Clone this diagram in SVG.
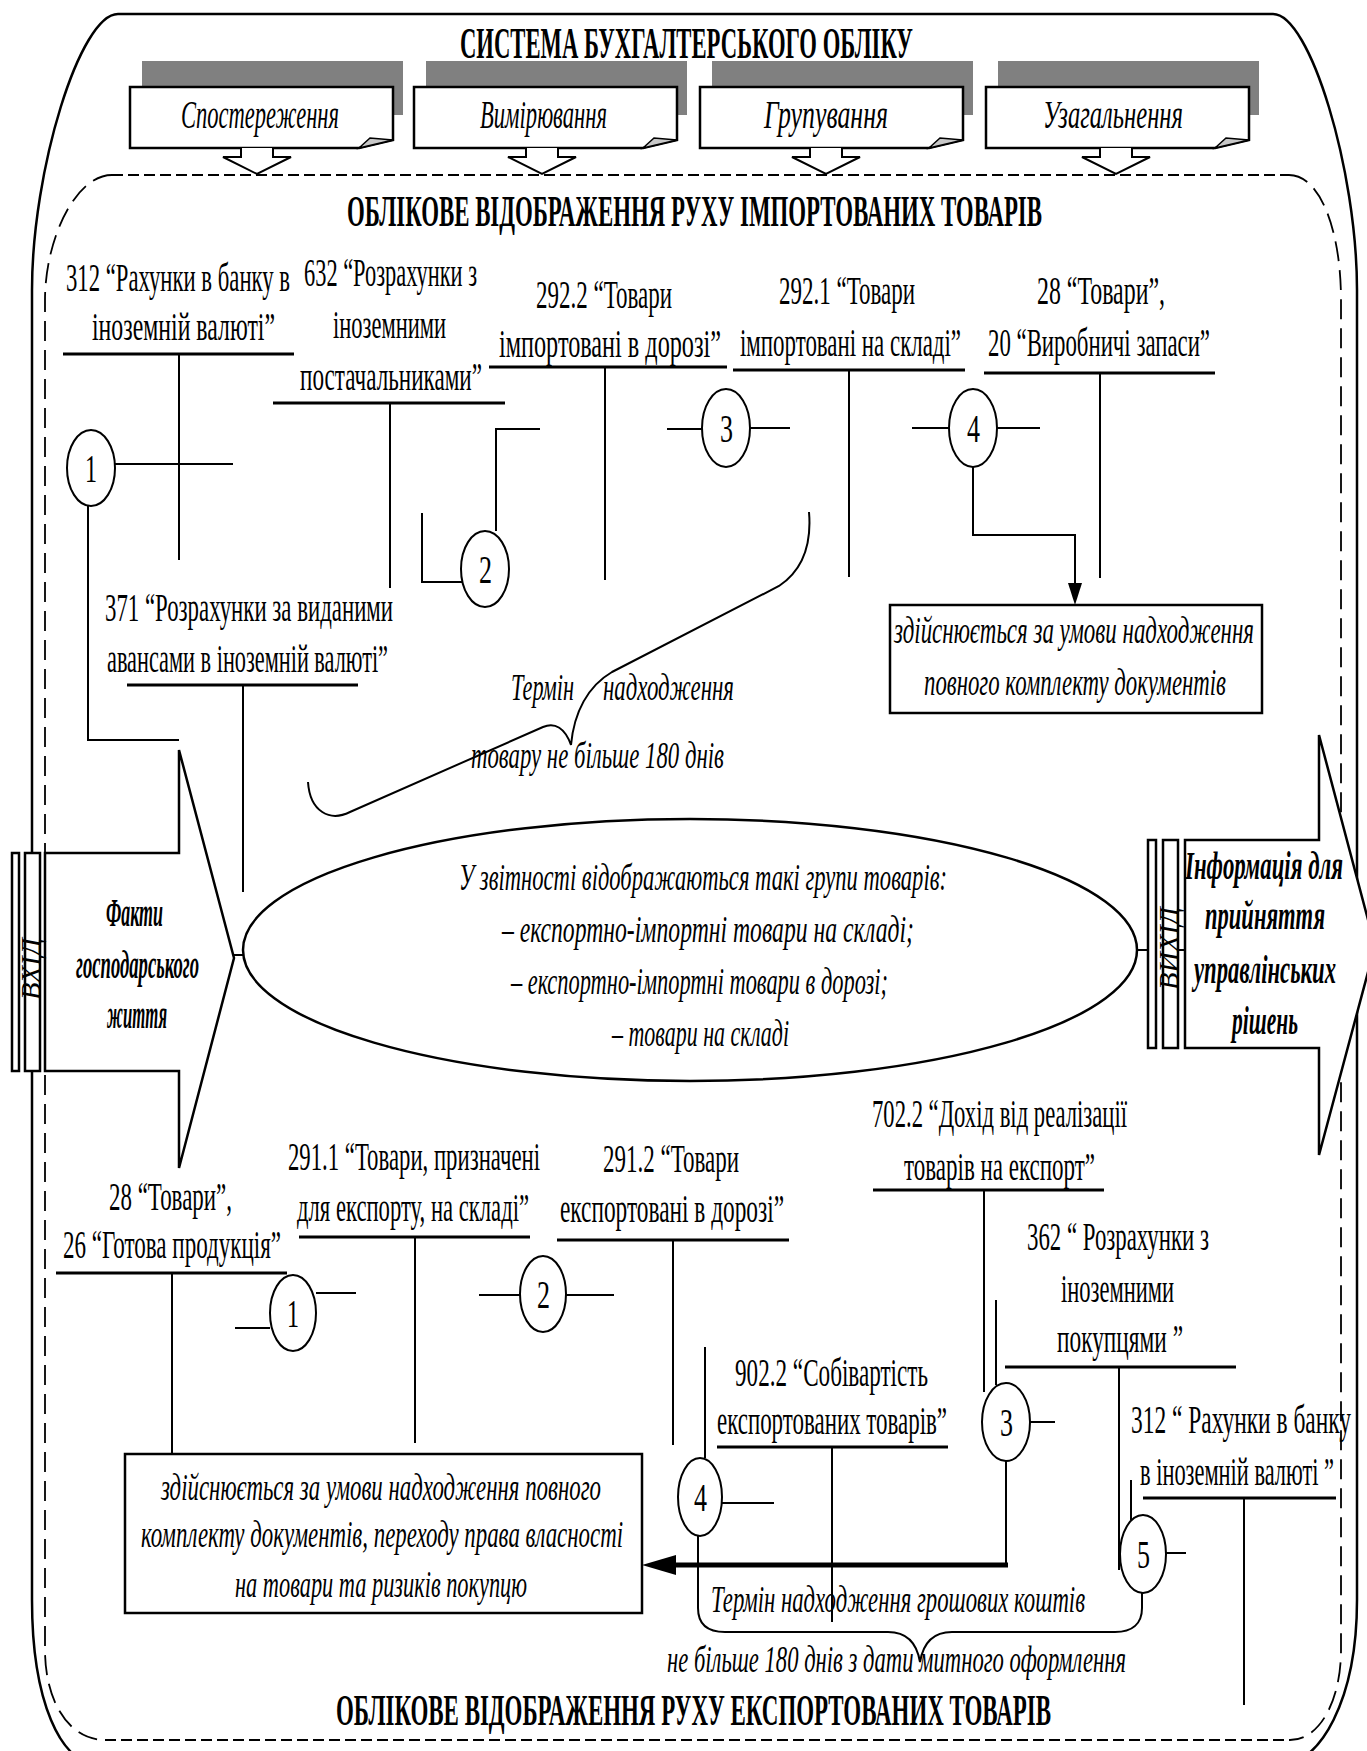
<svg xmlns="http://www.w3.org/2000/svg" width="1367" height="1751" viewBox="0 0 1367 1751">
<defs>
<style>
.ln{fill:none;stroke:#000;stroke-width:2}
.hl{fill:none;stroke:#000;stroke-width:3}
.tk{fill:none;stroke:#000;stroke-width:5}
.t{font-family:"Liberation Serif","Times New Roman",serif;font-size:40px;fill:#000}
.it{font-style:italic;font-size:38px}
.bx{font-style:italic;font-size:40px}
.bd{font-weight:bold;font-size:44px}
.bi{font-weight:bold;font-style:italic;font-size:40px}
.rot{font-style:italic;font-size:27px}
.cir{fill:#fff;stroke:#000;stroke-width:2}
.box{fill:#fff;stroke:#000;stroke-width:2.5}
.sh{fill:#808080}
.fold{fill:#c8c8c8;stroke:#000;stroke-width:1.5}
.dar{fill:#fff;stroke:#000;stroke-width:2}
.frame{fill:none;stroke:#000;stroke-width:2.5}
.dsh{fill:none;stroke:#000;stroke-width:1.8;stroke-dasharray:11 5}
.dsv{fill:none;stroke:#000;stroke-width:1.8;stroke-dasharray:20 9}
</style>
<marker id="ahd" markerWidth="22" markerHeight="14" refX="0" refY="7" orient="auto" markerUnits="userSpaceOnUse"><path d="M0,0 L22,7 L0,14 Z" fill="#000"/></marker>
<marker id="ahl" markerWidth="34" markerHeight="20" refX="0" refY="10" orient="auto" markerUnits="userSpaceOnUse"><path d="M0,0 L34,10 L0,20 Z" fill="#000"/></marker>
</defs>
<rect width="1367" height="1751" fill="#fff"/>

<g id="frames">
<path class="frame" d="M118,14 H1273 C1310,14 1357,170 1357,290 V1600 C1357,1700 1320,1765 1280,1765 H100 C60,1765 32,1700 32,1600 V290 C32,170 80,14 118,14 Z"/>
<path class="dsh" d="M112,175 H1289"/>
<path class="dsh" d="M105,1740 H1290"/>
<path class="dsv" d="M112,175 C75,175 45,240 45,300 V1650 C45,1700 68,1740 105,1740"/>
<path class="dsv" d="M1289,175 C1320,175 1341,230 1341,300 V1650 C1341,1700 1320,1740 1290,1740"/>
</g>

<g id="titles">
<text class="t bd" x="460" y="58" textLength="453" lengthAdjust="spacingAndGlyphs">СИСТЕМА БУХГАЛТЕРСЬКОГО ОБЛІКУ</text>
<text class="t bd" x="347" y="226" textLength="695" lengthAdjust="spacingAndGlyphs">ОБЛІКОВЕ ВІДОБРАЖЕННЯ РУХУ ІМПОРТОВАНИХ ТОВАРІВ</text>
<text class="t bd" x="336" y="1725" textLength="715" lengthAdjust="spacingAndGlyphs">ОБЛІКОВЕ ВІДОБРАЖЕННЯ РУХУ ЕКСПОРТОВАНИХ ТОВАРІВ</text>
</g>

<g id="stage-observation">
<rect class="sh" x="142" y="61" width="261" height="54"/>
<path class="box" d="M130,87 H393 V140 L359,148 H130 Z"/>
<path class="fold" d="M359,148 L370,138 L393,140 Z"/>
<path class="dar" d="M241,148 V157 H223 L257,174 L291,157 H273 V148"/>
<text class="t bx" x="181" y="128" textLength="158" lengthAdjust="spacingAndGlyphs">Спостереження</text>
</g>
<g id="stage-measurement">
<rect class="sh" x="426" y="61" width="261" height="54"/>
<path class="box" d="M414,87 H677 V140 L643,148 H414 Z"/>
<path class="fold" d="M643,148 L654,138 L677,140 Z"/>
<path class="dar" d="M526,148 V157 H508 L542,174 L576,157 H558 V148"/>
<text class="t bx" x="480" y="128" textLength="127" lengthAdjust="spacingAndGlyphs">Вимірювання</text>
</g>
<g id="stage-grouping">
<rect class="sh" x="712" y="61" width="261" height="54"/>
<path class="box" d="M700,87 H963 V140 L929,148 H700 Z"/>
<path class="fold" d="M929,148 L940,138 L963,140 Z"/>
<path class="dar" d="M810,148 V157 H792 L826,174 L860,157 H842 V148"/>
<text class="t bx" x="764" y="128" textLength="124" lengthAdjust="spacingAndGlyphs">Групування</text>
</g>
<g id="stage-generalization">
<rect class="sh" x="998" y="61" width="261" height="54"/>
<path class="box" d="M986,87 H1249 V140 L1215,148 H986 Z"/>
<path class="fold" d="M1215,148 L1226,138 L1249,140 Z"/>
<path class="dar" d="M1100,148 V157 H1082 L1116,174 L1150,157 H1132 V148"/>
<text class="t bx" x="1043" y="128" textLength="140" lengthAdjust="spacingAndGlyphs">Узагальнення</text>
</g>

<g id="connectors">
<path class="hl" d="M63,354 H294"/><path class="ln" d="M179,354 V560"/>
<path class="hl" d="M273,403 H505"/><path class="ln" d="M390,404 V588"/>
<path class="hl" d="M489,367 H727"/><path class="ln" d="M605,367 V580"/>
<path class="hl" d="M733,370 H965"/><path class="ln" d="M849,370 V577"/>
<path class="hl" d="M984,373 H1215"/><path class="ln" d="M1100,373 V578"/>
<path class="hl" d="M127,685 H358"/><path class="ln" d="M243,685 V892"/>
<path class="ln" d="M115,464 H233"/>
<path class="ln" d="M88,506 V740 H179"/>
<path class="ln" d="M496,531 V429 H540"/>
<path class="ln" d="M462,582 H422 V513"/>
<path class="ln" d="M667,429 H702"/><path class="ln" d="M750,428 H790"/>
<path class="ln" d="M912,428 H949"/><path class="ln" d="M997,428 H1040"/>
<path class="ln" d="M973,467 V535 H1075 V583" marker-end="url(#ahd)"/>
<path class="ln" d="M809,512 C812,548 800,572 779,586 L612,672 C588,686 574,712 571,745 C565,728 555,722 543,727 L350,812 C330,822 310,812 308,782"/>
<path class="ln" d="M234,955 H243"/>
<path class="ln" d="M1136,950 H1148"/><path class="ln" d="M1178,950 H1185"/>
<path class="hl" d="M56,1273 H287"/><path class="ln" d="M172,1273 V1454"/>
<path class="hl" d="M299,1237 H530"/><path class="ln" d="M415,1237 V1443"/>
<path class="hl" d="M557,1240 H789"/><path class="ln" d="M673,1240 V1445"/>
<path class="hl" d="M873,1190 H1104"/><path class="ln" d="M984,1190 V1392"/>
<path class="hl" d="M1005,1367 H1236"/><path class="ln" d="M1119,1367 V1570"/>
<path class="hl" d="M717,1447 H948"/><path class="ln" d="M832,1447 V1622"/>
<path class="hl" d="M1143,1498 H1336"/><path class="ln" d="M1244,1498 V1705"/>
<path class="ln" d="M235,1328 H270"/><path class="ln" d="M316,1293 H356"/>
<path class="ln" d="M479,1295 H520"/><path class="ln" d="M566,1295 H614"/>
<path class="ln" d="M996,1300 V1385"/><path class="ln" d="M1030,1422 H1055"/>
<path class="ln" d="M1006,1461 V1565"/>
<path class="tk" d="M1008,1565 H676" marker-end="url(#ahl)"/>
<path class="ln" d="M705,1347 V1458"/><path class="ln" d="M722,1503 H774"/>
<path class="ln" d="M1131,1480 V1520"/><path class="ln" d="M1166,1553 H1186"/>
<path class="ln" d="M698,1536 V1608 C698,1625 708,1632 725,1632 H888 C907,1632 917,1644 920,1662 C923,1644 933,1632 952,1632 H1115 C1132,1632 1142,1624 1142,1608 V1593"/>
</g>

<g id="input-arrow">
<path class="box" d="M45,853 H179 V750 L234,958 L179,1168 V1071 H45 Z"/>
<rect class="box" x="12" y="853" width="7" height="218"/>
<rect class="box" x="25" y="853" width="15" height="218"/>
<text class="t rot" transform="translate(40,1000) rotate(-90)" x="0" y="0" textLength="62" lengthAdjust="spacingAndGlyphs">ВХІД</text>
<text class="t bi" x="106" y="926" textLength="57" lengthAdjust="spacingAndGlyphs">Факти</text>
<text class="t bi" x="76" y="978" textLength="123" lengthAdjust="spacingAndGlyphs">господарського</text>
<text class="t bi" x="107" y="1028" textLength="60" lengthAdjust="spacingAndGlyphs">життя</text>
</g>

<g id="output-arrow">
<path class="box" d="M1185,840 H1319 V735 L1375,946 L1319,1155 V1048 H1185 Z"/>
<rect class="box" x="1148" y="840" width="8" height="208"/>
<rect class="box" x="1163" y="840" width="15" height="208"/>
<text class="t rot" transform="translate(1178,990) rotate(-90)" x="0" y="0" textLength="83" lengthAdjust="spacingAndGlyphs">ВИХІД</text>
<text class="t bi" x="1185" y="879" textLength="158" lengthAdjust="spacingAndGlyphs">Інформація для</text>
<text class="t bi" x="1205" y="929" textLength="120" lengthAdjust="spacingAndGlyphs">прийняття</text>
<text class="t bi" x="1194" y="983" textLength="142" lengthAdjust="spacingAndGlyphs">управлінських</text>
<text class="t bi" x="1232" y="1034" textLength="66" lengthAdjust="spacingAndGlyphs">рішень</text>
</g>

<g id="reporting-ellipse">
<ellipse class="box" cx="690" cy="950" rx="447" ry="131"/>
<text class="t it" x="459" y="890" textLength="488" lengthAdjust="spacingAndGlyphs">У звітності відображаються такі групи товарів:</text>
<text class="t it" x="502" y="942" textLength="412" lengthAdjust="spacingAndGlyphs">– експортно-імпортні товари на складі;</text>
<text class="t it" x="511" y="994" textLength="377" lengthAdjust="spacingAndGlyphs">– експортно-імпортні товари в дорозі;</text>
<text class="t it" x="612" y="1046" textLength="177" lengthAdjust="spacingAndGlyphs">– товари на складі</text>
</g>

<g id="acc-312-import">
<text class="t" x="66" y="291" textLength="224" lengthAdjust="spacingAndGlyphs">312 “Рахунки в банку в</text>
<text class="t" x="92" y="340" textLength="183" lengthAdjust="spacingAndGlyphs">іноземній валюті”</text>
</g>
<g id="acc-632">
<text class="t" x="304" y="286" textLength="173" lengthAdjust="spacingAndGlyphs">632 “Розрахунки з</text>
<text class="t" x="333" y="338" textLength="113" lengthAdjust="spacingAndGlyphs">іноземними</text>
<text class="t" x="300" y="390" textLength="182" lengthAdjust="spacingAndGlyphs">постачальниками”</text>
</g>
<g id="acc-292-2">
<text class="t" x="536" y="308" textLength="136" lengthAdjust="spacingAndGlyphs">292.2 “Товари</text>
<text class="t" x="499" y="357" textLength="222" lengthAdjust="spacingAndGlyphs">імпортовані в дорозі”</text>
</g>
<g id="acc-292-1">
<text class="t" x="779" y="304" textLength="136" lengthAdjust="spacingAndGlyphs">292.1 “Товари</text>
<text class="t" x="740" y="356" textLength="221" lengthAdjust="spacingAndGlyphs">імпортовані на складі”</text>
</g>
<g id="acc-28-20">
<text class="t" x="1037" y="304" textLength="128" lengthAdjust="spacingAndGlyphs">28 “Товари”,</text>
<text class="t" x="988" y="356" textLength="222" lengthAdjust="spacingAndGlyphs">20 “Виробничі запаси”</text>
</g>
<g id="acc-371">
<text class="t" x="105" y="621" textLength="288" lengthAdjust="spacingAndGlyphs">371 “Розрахунки за виданими</text>
<text class="t" x="107" y="672" textLength="281" lengthAdjust="spacingAndGlyphs">авансами в іноземній валюті”</text>
</g>

<g id="op-i1"><ellipse class="cir" cx="91" cy="468" rx="24" ry="38"/><text class="t" x="85" y="482" textLength="12" lengthAdjust="spacingAndGlyphs">1</text></g>
<g id="op-i2"><ellipse class="cir" cx="485" cy="569" rx="24" ry="38"/><text class="t" x="479" y="583" textLength="13" lengthAdjust="spacingAndGlyphs">2</text></g>
<g id="op-i3"><ellipse class="cir" cx="726" cy="428" rx="24" ry="39"/><text class="t" x="720" y="442" textLength="13" lengthAdjust="spacingAndGlyphs">3</text></g>
<g id="op-i4"><ellipse class="cir" cx="973" cy="428" rx="24" ry="39"/><text class="t" x="967" y="442" textLength="13" lengthAdjust="spacingAndGlyphs">4</text></g>

<g id="import-term">
<text class="t it" x="511" y="700" textLength="63" lengthAdjust="spacingAndGlyphs">Термін</text>
<text class="t it" x="603" y="700" textLength="131" lengthAdjust="spacingAndGlyphs">надходження</text>
<text class="t it" x="471" y="768" textLength="253" lengthAdjust="spacingAndGlyphs">товару не більше 180 днів</text>
</g>

<g id="import-note">
<rect class="box" x="890" y="605" width="372" height="108"/>
<text class="t it" x="894" y="643" textLength="360" lengthAdjust="spacingAndGlyphs">здійснюється за умови надходження</text>
<text class="t it" x="924" y="695" textLength="302" lengthAdjust="spacingAndGlyphs">повного комплекту документів</text>
</g>

<g id="acc-28-26">
<text class="t" x="109" y="1210" textLength="123" lengthAdjust="spacingAndGlyphs">28 “Товари”,</text>
<text class="t" x="63" y="1258" textLength="218" lengthAdjust="spacingAndGlyphs">26 “Готова продукція”</text>
</g>
<g id="acc-291-1">
<text class="t" x="288" y="1170" textLength="252" lengthAdjust="spacingAndGlyphs">291.1 “Товари, призначені</text>
<text class="t" x="297" y="1221" textLength="232" lengthAdjust="spacingAndGlyphs">для експорту, на складі”</text>
</g>
<g id="acc-291-2">
<text class="t" x="603" y="1172" textLength="136" lengthAdjust="spacingAndGlyphs">291.2 “Товари</text>
<text class="t" x="560" y="1222" textLength="224" lengthAdjust="spacingAndGlyphs">експортовані в дорозі”</text>
</g>
<g id="acc-702-2">
<text class="t" x="872" y="1127" textLength="255" lengthAdjust="spacingAndGlyphs">702.2 “Дохід від реалізації</text>
<text class="t" x="904" y="1180" textLength="191" lengthAdjust="spacingAndGlyphs">товарів на експорт”</text>
</g>
<g id="acc-362">
<text class="t" x="1027" y="1250" textLength="182" lengthAdjust="spacingAndGlyphs">362 “ Розрахунки з</text>
<text class="t" x="1061" y="1302" textLength="113" lengthAdjust="spacingAndGlyphs">іноземними</text>
<text class="t" x="1057" y="1352" textLength="126" lengthAdjust="spacingAndGlyphs">покупцями ”</text>
</g>
<g id="acc-902-2">
<text class="t" x="735" y="1386" textLength="193" lengthAdjust="spacingAndGlyphs">902.2 “Собівартість</text>
<text class="t" x="717" y="1434" textLength="230" lengthAdjust="spacingAndGlyphs">експортованих товарів”</text>
</g>
<g id="acc-312-export">
<text class="t" x="1131" y="1433" textLength="220" lengthAdjust="spacingAndGlyphs">312 “ Рахунки в банку</text>
<text class="t" x="1140" y="1485" textLength="194" lengthAdjust="spacingAndGlyphs">в іноземній валюті ”</text>
</g>

<g id="op-e1"><ellipse class="cir" cx="293" cy="1313" rx="23" ry="38"/><text class="t" x="287" y="1327" textLength="12" lengthAdjust="spacingAndGlyphs">1</text></g>
<g id="op-e2"><ellipse class="cir" cx="543" cy="1294" rx="23" ry="38"/><text class="t" x="537" y="1308" textLength="13" lengthAdjust="spacingAndGlyphs">2</text></g>
<g id="op-e3"><ellipse class="cir" cx="1006" cy="1422" rx="24" ry="39"/><text class="t" x="1000" y="1436" textLength="13" lengthAdjust="spacingAndGlyphs">3</text></g>
<g id="op-e4"><ellipse class="cir" cx="700" cy="1497" rx="22" ry="39"/><text class="t" x="694" y="1511" textLength="13" lengthAdjust="spacingAndGlyphs">4</text></g>
<g id="op-e5"><ellipse class="cir" cx="1143" cy="1554" rx="23" ry="39"/><text class="t" x="1137" y="1568" textLength="13" lengthAdjust="spacingAndGlyphs">5</text></g>

<g id="export-note">
<rect class="box" x="125" y="1454" width="517" height="159"/>
<text class="t it" x="161" y="1500" textLength="440" lengthAdjust="spacingAndGlyphs">здійснюється за умови надходження повного</text>
<text class="t it" x="141" y="1547" textLength="482" lengthAdjust="spacingAndGlyphs">комплекту документів, переходу права власності</text>
<text class="t it" x="235" y="1597" textLength="292" lengthAdjust="spacingAndGlyphs">на товари та ризиків покупцю</text>
</g>

<g id="export-term">
<text class="t it" x="711" y="1612" textLength="374" lengthAdjust="spacingAndGlyphs">Термін надходження грошових коштів</text>
<text class="t it" x="667" y="1672" textLength="459" lengthAdjust="spacingAndGlyphs">не більше 180 днів з дати митного оформлення</text>
</g>
</svg>
